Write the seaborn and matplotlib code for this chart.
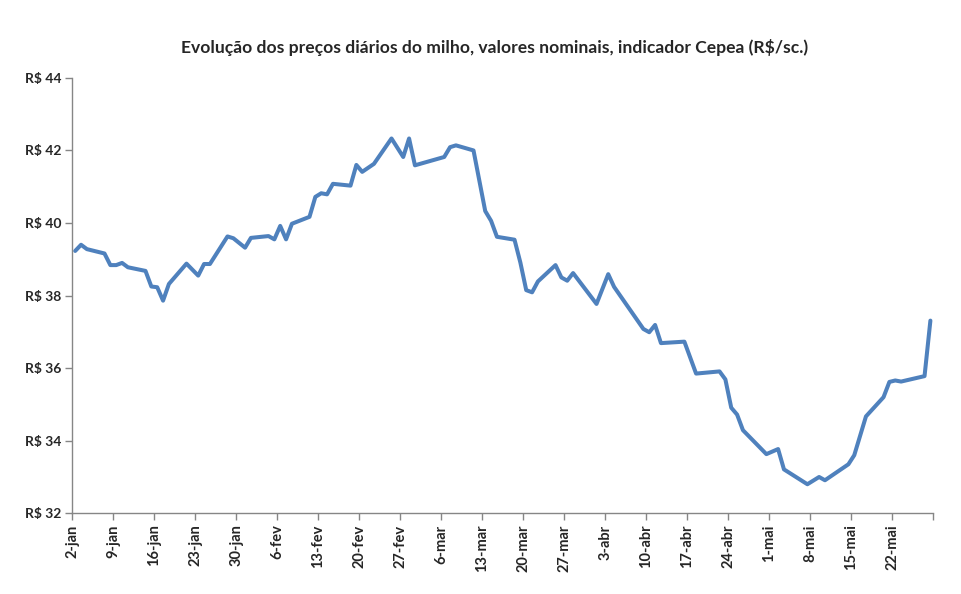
import pandas as pd
import seaborn as sns
import matplotlib.pyplot as plt
import matplotlib.dates as mdates

# datas (dias úteis) e preços
datas = ["2019-01-02", "2019-01-03", "2019-01-04", "2019-01-07", "2019-01-08", "2019-01-09",
         "2019-01-10", "2019-01-11", "2019-01-14", "2019-01-15", "2019-01-16", "2019-01-17",
         "2019-01-18", "2019-01-21", "2019-01-23", "2019-01-24", "2019-01-25", "2019-01-28",
         "2019-01-29", "2019-01-31", "2019-02-01", "2019-02-04", "2019-02-05", "2019-02-06",
         "2019-02-07", "2019-02-08", "2019-02-11", "2019-02-12", "2019-02-13", "2019-02-14",
         "2019-02-15", "2019-02-18", "2019-02-19", "2019-02-20", "2019-02-22", "2019-02-25",
         "2019-02-27", "2019-02-28", "2019-03-01", "2019-03-06", "2019-03-07", "2019-03-08",
         "2019-03-11", "2019-03-13", "2019-03-14", "2019-03-15", "2019-03-18", "2019-03-19",
         "2019-03-20", "2019-03-21", "2019-03-22", "2019-03-25", "2019-03-26", "2019-03-27",
         "2019-03-28", "2019-04-01", "2019-04-03", "2019-04-04", "2019-04-09", "2019-04-10",
         "2019-04-11", "2019-04-12", "2019-04-16", "2019-04-18", "2019-04-22", "2019-04-23",
         "2019-04-24", "2019-04-25", "2019-04-26", "2019-04-30", "2019-05-02", "2019-05-03",
         "2019-05-07", "2019-05-09", "2019-05-10", "2019-05-13", "2019-05-14", "2019-05-15",
         "2019-05-17", "2019-05-20", "2019-05-21", "2019-05-22", "2019-05-23", "2019-05-27",
         "2019-05-28"]
precos = [39.23, 39.40, 39.28, 39.16, 38.84, 38.84, 38.90, 38.78, 38.68, 38.25, 38.23, 37.86,
          38.32, 38.88, 38.55, 38.87, 38.87, 39.63, 39.58, 39.32, 39.59, 39.64, 39.55, 39.92,
          39.55, 39.98, 40.17, 40.72, 40.82, 40.79, 41.08, 41.03, 41.60, 41.41, 41.63, 42.33,
          41.82, 42.33, 41.59, 41.82, 42.09, 42.14, 42.00, 40.33, 40.06, 39.62, 39.54, 38.91,
          38.15, 38.09, 38.39, 38.84, 38.50, 38.41, 38.62, 37.77, 38.59, 38.24, 37.08, 36.99,
          37.19, 36.69, 36.73, 35.85, 35.91, 35.69, 34.91, 34.72, 34.29, 33.63, 33.77, 33.21,
          32.80, 33.00, 32.91, 33.24, 33.35, 33.60, 34.67, 35.20, 35.62, 35.66, 35.63, 35.78,
          37.31]

meses = ["jan", "fev", "mar", "abr", "mai", "jun", "jul", "ago", "set", "out", "nov", "dez"]
y_ticks = [32, 34, 36, 38, 40, 42, 44]

df = pd.DataFrame({"data": pd.to_datetime(datas), "preco": precos})
# Excel desenha cada ponto no meio do dia (entre as marcas)
df["x"] = df["data"] + pd.Timedelta(hours=12)

sns.set_style("white")
plt.rcParams["font.family"] = ["Lato", "DejaVu Sans"]

fig = plt.figure(figsize=(9.61, 5.94), dpi=100)
ax = fig.add_axes([0.0752, 0.1359, 0.8960, 0.7330])

sns.lineplot(data=df, x="x", y="preco", color="#4F81BD", linewidth=2.9, ax=ax)

inicio = pd.Timestamp("2019-01-02")
fim = pd.Timestamp("2019-05-29")
ax.set_xlim(inicio, fim)
ax.set_ylim(32, 44)

ticks_x = pd.date_range(inicio, fim, freq="7D")
ax.set_xticks(ticks_x)
labels_x = [f"{d.day}-{meses[d.month - 1]}" for d in ticks_x]
labels_x[-1] = ""
ax.set_xticklabels(labels_x, rotation=90, fontsize=10.5, fontweight="bold", va="top")

ax.set_yticks(y_ticks)
ax.set_yticklabels([f"R$ {v}" for v in y_ticks], fontsize=10, fontweight="bold")

for s in ["top", "right"]:
    ax.spines[s].set_visible(False)
for s in ["left", "bottom"]:
    ax.spines[s].set_color("#868686")
    ax.spines[s].set_linewidth(1)
ax.tick_params(axis="both", direction="out", length=5, width=1, color="#868686", pad=3,
               left=True, bottom=True)
ax.set_xlabel("")
ax.set_ylabel("")

fig.text(495 / 961, 1 - 47 / 594, "Evolução dos preços diários do milho, valores nominais, indicador Cepea (R$/sc.)",
         ha="center", va="center", fontsize=12.6, fontweight="bold")

fig.savefig("out.png", dpi=100)
